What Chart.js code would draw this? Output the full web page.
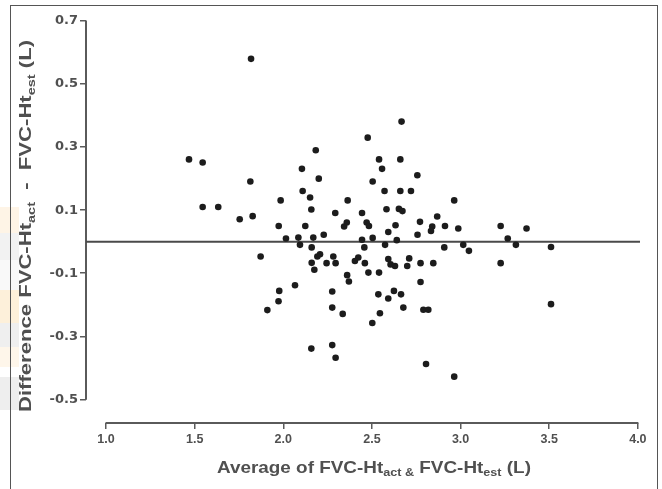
<!DOCTYPE html>
<html><head><meta charset="utf-8">
<script src="https://cdn.jsdelivr.net/npm/chart.js@4/dist/chart.umd.min.js"></script>
<style>
html,body{margin:0;padding:0;background:#fff;}
#wrap{position:relative;width:662px;height:489px;overflow:hidden;background:#fff;}
#frame{position:absolute;left:10px;top:5px;width:648px;height:500px;border:1.5px solid #555;border-bottom:none;box-sizing:border-box;}
.blk{position:absolute;left:0;width:19px;}
canvas{position:absolute;left:0;top:0;}
</style></head><body>
<div id="wrap">
<div class="blk" style="top:207px;height:26px;background:#fef4e6;"></div>
<div class="blk" style="top:233px;height:27px;background:#f2f2f2;"></div>
<div class="blk" style="top:260px;height:30px;background:#f9f9f9;"></div>
<div class="blk" style="top:290px;height:33px;background:#fdf0da;"></div>
<div class="blk" style="top:323px;height:24px;background:#efefef;"></div>
<div class="blk" style="top:347px;height:20px;background:#fef6ea;"></div>
<div class="blk" style="top:377px;height:33px;background:#eeeeee;"></div>
<div id="frame"></div>
<canvas id="c" width="662" height="489"></canvas></div>
<script>
const xTicks = [1.0, 1.5, 2.0, 2.5, 3.0, 3.5, 4.0];
const yTicks = [0.7, 0.5, 0.3, 0.1, -0.1, -0.3, -0.5];
const meanDiff = 0;
const xRange = [0.887, 4.012];
const yRange = [-0.575, 0.7];

const avgValues = [
 1.818,1.468,1.545,1.545,1.633,1.754,1.814,1.827,1.985,1.974,
 2.105,2.183,2.200,2.109,2.151,2.158,2.124,2.293,2.363,2.358,
 2.343,2.228,2.444,2.470,2.483,2.476,2.540,2.557,2.504,2.571,
 2.582,2.592,2.015,2.085,2.094,2.160,2.169,2.444,2.457,2.504,
 2.574,2.667,2.660,2.756,2.660,2.720,2.652,2.672,2.633,2.771,
 2.757,2.868,2.840,2.833,2.912,2.964,2.987,3.226,3.372,3.266,
 2.640,2.908,3.015,3.047,3.312,3.510,1.872,2.160,2.207,2.192,
 2.175,2.282,2.244,2.295,2.423,2.404,2.460,2.480,2.540,2.360,
 2.370,2.066,1.977,1.973,1.910,2.276,2.276,2.335,2.536,2.545,
 2.502,2.592,2.158,2.276,2.295,2.592,2.605,2.630,2.710,2.699,
 2.774,2.846,2.774,2.624,2.664,2.677,2.790,2.818,3.226,3.510,
 2.805,2.964
];
const diffValues = [
 0.580,0.261,0.251,0.110,0.110,0.071,0.191,0.081,0.131,0.050,
 0.231,0.290,0.200,0.161,0.140,0.102,0.050,0.091,0.131,0.061,
 0.048,0.022,0.091,0.061,0.050,0.330,0.261,0.231,0.191,0.161,
 0.103,0.031,0.010,0.013,-0.010,-0.018,0.013,0.006,-0.018,0.012,
 -0.010,0.381,0.261,0.211,0.161,0.161,0.104,0.097,0.052,0.063,
 0.022,0.080,0.048,0.034,0.050,0.131,0.042,0.050,0.042,0.010,
 0.005,-0.018,-0.010,-0.029,-0.010,-0.017,-0.047,-0.067,-0.040,-0.047,
 -0.089,-0.047,-0.068,-0.068,-0.050,-0.061,-0.068,-0.098,-0.098,-0.106,
 -0.126,-0.138,-0.156,-0.189,-0.217,-0.158,-0.209,-0.229,-0.167,-0.227,
 -0.258,-0.180,-0.339,-0.328,-0.368,-0.055,-0.072,-0.077,-0.053,-0.077,
 -0.068,-0.068,-0.128,-0.156,-0.167,-0.209,-0.216,-0.216,-0.068,-0.198,
 -0.388,-0.428
];

const points = avgValues.map((x, i) => ({x: x, y: diffValues[i]}));

const TXT = '#505050';
const AX = '#5a5a5a';
const FAM = '"Liberation Sans", Arial, sans-serif';

function drawRich(ctx, parts, size, subSize, targetLen) {
  let total = 0;
  parts.forEach(p => {
    ctx.font = 'bold ' + (p.sub ? subSize : size) + 'px ' + FAM;
    p.w = ctx.measureText(p.t).width;
    total += p.w;
  });
  const k = targetLen / total;
  ctx.scale(k, 1);
  let x = -total / 2;
  parts.forEach(p => {
    ctx.font = 'bold ' + (p.sub ? subSize : size) + 'px ' + FAM;
    ctx.fillText(p.t, x, p.sub ? size * 0.32 : 0);
    x += p.w;
  });
}

const axisPlugin = {
  id: 'axisPlugin',
  beforeDatasetsDraw(chart) {
    const ctx = chart.ctx, xs = chart.scales.x, ys = chart.scales.y, ca = chart.chartArea;
    ctx.save();
    ctx.strokeStyle = AX;
    ctx.lineWidth = 2;
    ctx.beginPath();
    ctx.moveTo(xs.getPixelForValue(xTicks[0]) - 0.5, ca.bottom);
    ctx.lineTo(xs.getPixelForValue(xTicks[xTicks.length - 1]) + 0.5, ca.bottom);
    ctx.moveTo(ca.left, ys.getPixelForValue(yTicks[0]) - 0.5);
    ctx.lineTo(ca.left, ys.getPixelForValue(yTicks[yTicks.length - 1]) + 0.5);
    ctx.stroke();
    ctx.restore();
  },
  afterDraw(chart) {
    const ctx = chart.ctx, xs = chart.scales.x;
    ctx.save();
    ctx.fillStyle = TXT;
    ctx.textBaseline = 'middle';
    ctx.textAlign = 'left';
    const cx = (xs.getPixelForValue(xTicks[0]) + xs.getPixelForValue(xTicks[xTicks.length - 1])) / 2;
    ctx.translate(cx + 2, 468);
    drawRich(ctx, [
      {t: 'Average of FVC-Ht'}, {t: 'act &', sub: true}, {t: ' FVC-Ht'}, {t: 'est', sub: true}, {t: ' (L)'}
    ], 16.5, 11, 314);
    ctx.restore();
    ctx.save();
    ctx.fillStyle = TXT;
    ctx.textBaseline = 'middle';
    ctx.textAlign = 'left';
    ctx.translate(27, 226);
    ctx.rotate(-Math.PI / 2);
    drawRich(ctx, [
      {t: 'Difference FVC-Ht'}, {t: 'act', sub: true}, {t: '  -  FVC-Ht'}, {t: 'est', sub: true}, {t: ' (L)'}
    ], 16, 10.5, 372);
    ctx.restore();
  }
};

new Chart(document.getElementById('c'), {
  data: {
    datasets: [
      {type: 'scatter', data: points, pointRadius: 3.3, pointBackgroundColor: '#1c1c1c', pointBorderWidth: 0, pointHoverRadius: 3.3},
      {type: 'line', data: [{x: xRange[0], y: meanDiff}, {x: xRange[1], y: meanDiff}], borderColor: '#4a4a4a', borderWidth: 2, pointRadius: 0, fill: false}
    ]
  },
  options: {
    responsive: false,
    animation: false,
    devicePixelRatio: 1,
    layout: {padding: {top: 21, right: 22, left: 0, bottom: 0}},
    plugins: {legend: {display: false}, tooltip: {enabled: false}},
    scales: {
      x: {
        type: 'linear', min: xRange[0], max: xRange[1],
        afterBuildTicks: s => { s.ticks = xTicks.map(v => ({value: v})); },
        afterFit: s => { s.height = 66; },
        ticks: {autoSkip: false, maxRotation: 0, padding: 3, color: TXT, font: {family: FAM, size: 12.5, weight: 'bold'}, callback: v => Number(v).toFixed(1)},
        grid: {drawOnChartArea: false, drawTicks: true, tickLength: 6, color: AX, lineWidth: 1.5},
        border: {display: false}
      },
      y: {
        type: 'linear', min: yRange[0], max: yRange[1],
        afterBuildTicks: s => { s.ticks = yTicks.map(v => ({value: v})); },
        afterFit: s => { s.width = 86; },
        ticks: {autoSkip: false, padding: 2, color: TXT, font: {family: '"DejaVu Sans", sans-serif', size: 13, weight: 'bold'}, callback: v => Number(v).toFixed(1)},
        grid: {drawOnChartArea: false, drawTicks: true, tickLength: 6, color: AX, lineWidth: 1.5},
        border: {display: false}
      }
    }
  },
  plugins: [axisPlugin]
});
</script>
</body></html>
